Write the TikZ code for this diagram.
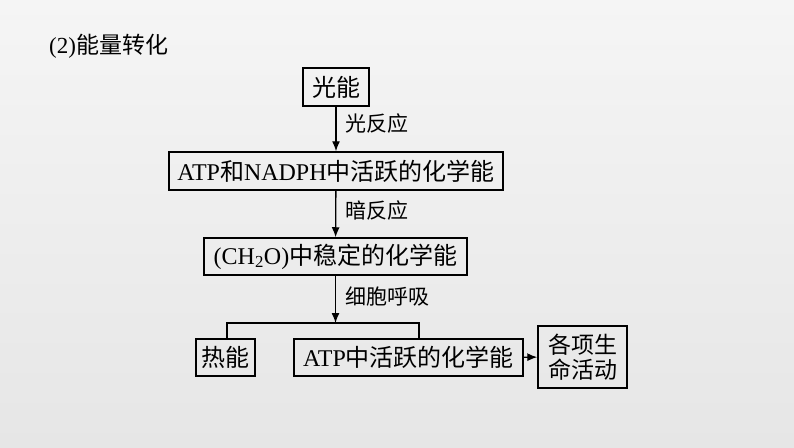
\documentclass[tikz,border=0pt]{standalone}
\usepackage{fontspec}
\setmainfont{Liberation Serif}
\newfontfamily\cjk{Noto Sans CJK SC}
\usetikzlibrary{arrows.meta,positioning,calc}
\definecolor{bgtop}{HTML}{F5F5F5}
\definecolor{bgbot}{HTML}{E6E6E6}
\tikzset{%
    >={Latex[width=8pt,length=10pt]},
    % Specifications for style of nodes:
    base/.style = {
        rectangle, draw=black, line width=1.5pt,
        inner xsep=3pt, inner ysep=2pt,
        text centered, align=center,
        font=\fontsize{24}{25}\selectfont
    },
    energy/.style = {base, minimum height=37pt},
    label/.style = {anchor=west, inner sep=0pt, font=\fontsize{21}{22}\selectfont\cjk},
    line/.style = {line width=1.3pt}
}
\begin{document}
\begin{tikzpicture}[x=1pt, y=-1pt]
    \useasboundingbox (0,0) rectangle (794,447);
    \shade[top color=bgtop, bottom color=bgbot] (0,0) rectangle (794,447);
    \node[anchor=west, inner sep=0pt, font=\fontsize{23}{25}\selectfont] (title) at (49,46) {(2){\cjk 能量转化}};
    % energy forms
    \node[energy, minimum width=66pt, minimum height=38pt] (light) at (336,87) {\cjk 光能};
    \node[energy, minimum width=334pt, minimum height=38pt] (atpn) at (336,171) {ATP{\cjk 和}NADPH{\cjk 中活跃的化学能}};
    \node[energy, minimum width=263pt] (sugar) at (335.5,256.5) {(CH\textsubscript{2}O){\cjk 中稳定的化学能}};
    \node[energy, minimum width=59pt] (heat) at (225.5,357.5) {\cjk 热能};
    \node[energy, minimum width=229pt] (atp) at (408.5,357.5) {ATP{\cjk 中活跃的化学能}};
    \node[base, minimum width=89pt, minimum height=62pt, font=\fontsize{23}{25}\selectfont\cjk] (life) at (582.5,357) {各项生\\命活动};
    % connectors
    \coordinate (fork) at (335.5,323);
    \coordinate (bl) at (227,323);
    \coordinate (br) at (419,323);
    \draw[line, ->] (light) -- (atpn);
    \draw[line, ->] (atpn) -- (sugar);
    \draw[line, ->] (sugar) -- (fork);
    \draw[line] (heat.north -| bl) -- (bl) -- (br) -- (atp.north -| br);
    \draw[line, ->] (atp) -- (life);
    \node[label] (lr) at (345,124) {光反应};
    \node[label] (dr) at (345,211) {暗反应};
    \node[label] (cr) at (345,297) {细胞呼吸};
\end{tikzpicture}
\end{document}
